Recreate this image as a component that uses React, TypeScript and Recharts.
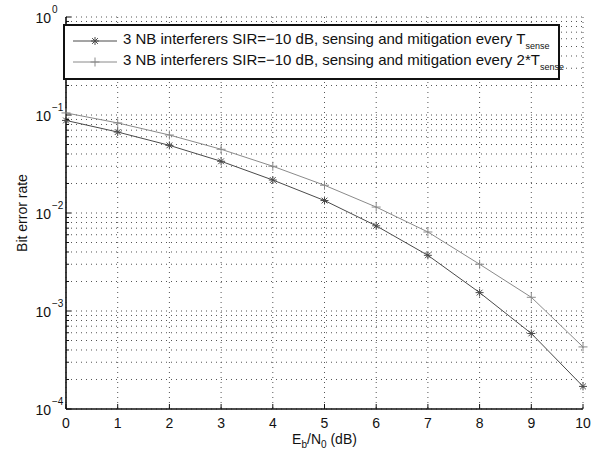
import React from "react";
import {
  LineChart,
  Line,
  XAxis,
  YAxis,
  CartesianGrid,
  Legend,
  Label,
} from "recharts";

// ---- data ----
const ebN0 = [0, 1, 2, 3, 4, 5, 6, 7, 8, 9, 10];
const berEveryTsense = [0.088, 0.067, 0.049, 0.0337, 0.0217, 0.0134, 0.0074, 0.0037, 0.00154, 0.00059, 0.00017];
const berEvery2Tsense = [0.105, 0.083, 0.0625, 0.0447, 0.03, 0.0192, 0.0115, 0.0064, 0.003, 0.00138, 0.00043];
const seriesNames = [
  "3 NB interferers SIR=\u221210 dB, sensing and mitigation every ",
  "3 NB interferers SIR=\u221210 dB, sensing and mitigation every 2*",
];
const xTicks = [0, 1, 2, 3, 4, 5, 6, 7, 8, 9, 10];
const yDecades = [1e-4, 1e-3, 1e-2, 1e-1, 1];
const yMinorMultipliers = [2, 3, 4, 5, 6, 7, 8, 9];

const yTicks: number[] = [];
yDecades.forEach((d, i) => {
  yTicks.push(d);
  if (i < yDecades.length - 1) yMinorMultipliers.forEach((m) => yTicks.push(m * d));
});

const data = ebN0.map((x, i) => ({
  x,
  s1: berEveryTsense[i],
  s2: berEvery2Tsense[i],
}));

const FONT = "'Liberation Sans', Arial, Helvetica, sans-serif";
const C1 = "#4a4a4a";
const C2 = "#8a8a8a";
const AX = "#111";

const isMajor = (v: number) => yDecades.some((d) => Math.abs(v - d) / d < 1e-6);

const StarMarker = ({ cx, cy, color, r = 4 }: any) => {
  const d = r * 0.72;
  return (
    <g stroke={color} strokeWidth={1} fill="none">
      <line x1={cx - r} y1={cy} x2={cx + r} y2={cy} />
      <line x1={cx} y1={cy - r} x2={cx} y2={cy + r} />
      <line x1={cx - d} y1={cy - d} x2={cx + d} y2={cy + d} />
      <line x1={cx - d} y1={cy + d} x2={cx + d} y2={cy - d} />
    </g>
  );
};

const PlusMarker = ({ cx, cy, color, r = 4.5 }: any) => (
  <g stroke={color} strokeWidth={1} fill="none">
    <line x1={cx - r} y1={cy} x2={cx + r} y2={cy} />
    <line x1={cx} y1={cy - r} x2={cx} y2={cy + r} />
  </g>
);

const LeftTick = (props: any) => {
  const { x, y, payload } = props;
  const v = payload.value;
  const major = isMajor(v);
  const exp = Math.round(Math.log10(v));
  return (
    <g>
      <line x1={x} y1={y} x2={x + (major ? 5 : 3)} y2={y} stroke={AX} strokeWidth={1} />
      {major && (
        <text x={x - 15} y={y + 6} textAnchor="end" fontSize={14} fontFamily={FONT} fill="#111">
          10
        </text>
      )}
      {major && (
        <text x={x - 14} y={y - 4} textAnchor="start" fontSize={10} fontFamily={FONT} fill="#111">
          {exp === 0 ? "0" : "\u2212" + Math.abs(exp)}
        </text>
      )}
    </g>
  );
};

const RightTick = (props: any) => {
  const { x, y, payload } = props;
  const major = isMajor(payload.value);
  return <line x1={x} y1={y} x2={x - (major ? 5 : 3)} y2={y} stroke={AX} strokeWidth={1} />;
};

const BottomTick = (props: any) => {
  const { x, y, payload } = props;
  return (
    <g>
      <line x1={x} y1={y} x2={x} y2={y - 5} stroke={AX} strokeWidth={1} />
      <text x={x} y={y + 19} textAnchor="middle" fontSize={14} fontFamily={FONT} fill="#111">
        {payload.value}
      </text>
    </g>
  );
};

const TopTick = (props: any) => {
  const { x, y } = props;
  return <line x1={x} y1={y} x2={x} y2={y + 5} stroke={AX} strokeWidth={1} />;
};

const XLabel = (props: any) => {
  const vb = props.viewBox;
  const cx = vb.x + vb.width / 2;
  return (
    <text x={cx} y={444} textAnchor="middle" fontSize={14} fontFamily={FONT} fill="#111">
      <tspan>E</tspan>
      <tspan fontSize={10} dy={4}>b</tspan>
      <tspan dy={-4}>/N</tspan>
      <tspan fontSize={10} dy={4}>0</tspan>
      <tspan dy={-4}> (dB)</tspan>
    </text>
  );
};

const YLabel = (props: any) => {
  const vb = props.viewBox;
  const cy = vb.y + vb.height / 2;
  return (
    <text
      x={27}
      y={cy}
      transform={`rotate(-90, 27, ${cy})`}
      textAnchor="middle"
      fontSize={14}
      fontFamily={FONT}
      fill="#111"
    >
      Bit error rate
    </text>
  );
};

const LegendContent = () => {
  const rows = [
    { name: seriesNames[0], color: C1, Marker: StarMarker },
    { name: seriesNames[1], color: C2, Marker: PlusMarker },
  ];
  return (
    <div
      style={{
        boxSizing: "border-box",
        width: 497,
        height: 56,
        border: "2px solid #111",
        background: "#fff",
        fontFamily: FONT,
        fontSize: 15,
        color: "#111",
        paddingTop: 4,
      }}
    >
      {rows.map((r, i) => (
        <div key={i} style={{ display: "flex", alignItems: "center", height: 21, whiteSpace: "nowrap" }}>
          <svg width={56} height={20} style={{ display: "block", flex: "none" }}>
            <line x1={8} y1={10} x2={52} y2={10} stroke={r.color} strokeWidth={1} />
            <r.Marker cx={30} cy={10} color={r.color} />
          </svg>
          <span style={{ marginLeft: 2 }}>
            {r.name}T<sub style={{ fontSize: 9, verticalAlign: -5 }}>sense</sub>
          </span>
        </div>
      ))}
    </div>
  );
};

export default function App() {
  return (
    <div style={{ position: "absolute", left: 0, top: 0, width: 599, height: 454, background: "#fff" }}>
      <LineChart
        width={599}
        height={454}
        data={data}
        margin={{ top: 17, right: 16, left: 0, bottom: 0 }}
      >
        <CartesianGrid stroke="#555" strokeDasharray="1 4" strokeWidth={1} />
        <XAxis
          dataKey="x"
          type="number"
          domain={[0, 10]}
          ticks={xTicks}
          height={45}
          tickSize={0}
          tickMargin={0}
          tickLine={false}
          tick={<BottomTick />}
          axisLine={{ stroke: AX, strokeWidth: 1.6 }}
          interval={0}
        >
          <Label content={<XLabel />} />
        </XAxis>
        <XAxis
          xAxisId="top"
          orientation="top"
          dataKey="x"
          type="number"
          domain={[0, 10]}
          ticks={xTicks}
          height={0}
          tickSize={0}
          tickMargin={0}
          tickLine={false}
          tick={<TopTick />}
          axisLine={{ stroke: AX, strokeWidth: 1.6 }}
          interval={0}
        />
        <YAxis
          type="number"
          scale="log"
          domain={[1e-4, 1]}
          allowDataOverflow
          ticks={yTicks}
          width={66}
          tickSize={0}
          tickMargin={0}
          tickLine={false}
          tick={<LeftTick />}
          axisLine={{ stroke: AX, strokeWidth: 1.6 }}
          interval={0}
        >
          <Label content={<YLabel />} />
        </YAxis>
        <YAxis
          yAxisId="right"
          orientation="right"
          type="number"
          scale="log"
          domain={[1e-4, 1]}
          allowDataOverflow
          ticks={yTicks}
          width={0}
          tickSize={0}
          tickMargin={0}
          tickLine={false}
          tick={<RightTick />}
          axisLine={{ stroke: AX, strokeWidth: 1.6 }}
          interval={0}
        />
        <Line
          dataKey="s1"
          name={seriesNames[0]}
          stroke={C1}
          strokeWidth={1}
          type="linear"
          isAnimationActive={false}
          dot={(p: any) => <StarMarker key={p.index} cx={p.cx} cy={p.cy} color={C1} />}
        />
        <Line
          dataKey="s2"
          name={seriesNames[1]}
          stroke={C2}
          strokeWidth={1}
          type="linear"
          isAnimationActive={false}
          dot={(p: any) => <PlusMarker key={p.index} cx={p.cx} cy={p.cy} color={C2} />}
        />
        <Legend
          layout="horizontal"
          verticalAlign="middle"
          align="center"
          content={<LegendContent />}
          wrapperStyle={{ position: "absolute", left: 63, top: 24, width: 497, height: 56 }}
        />
      </LineChart>
    </div>
  );
}
